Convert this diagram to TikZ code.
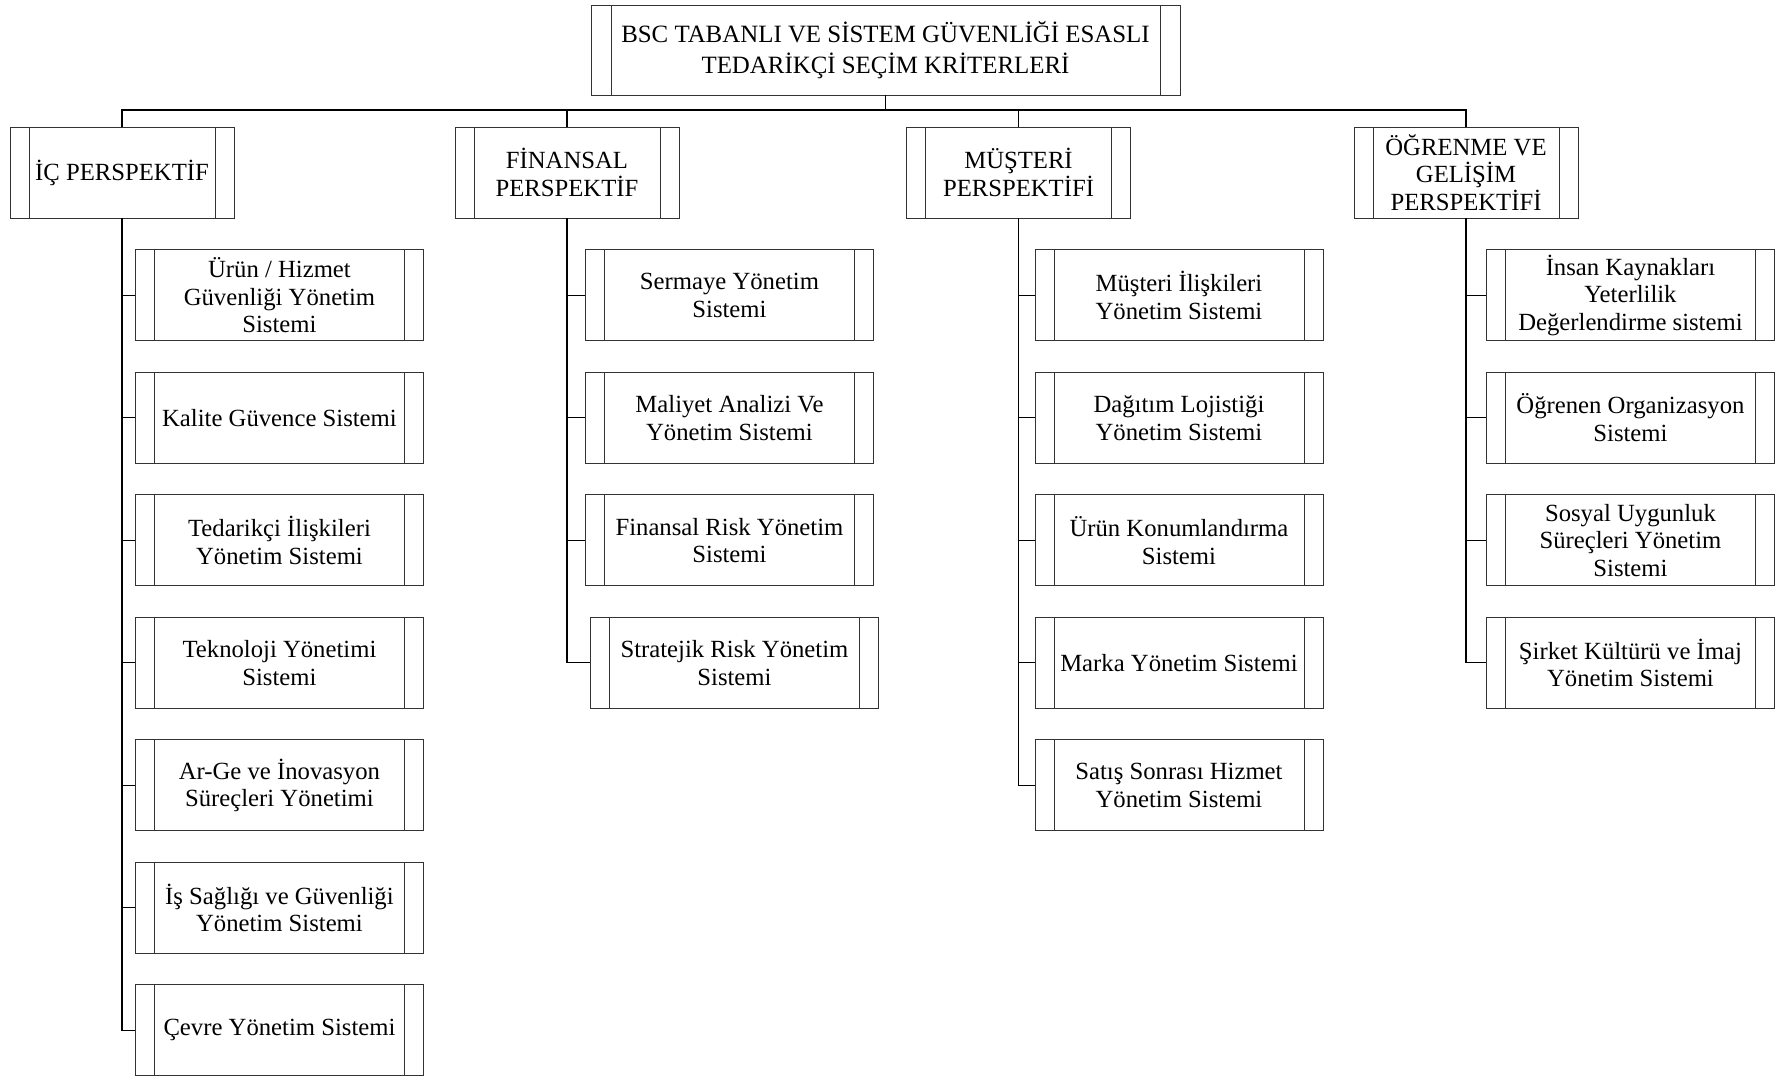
\documentclass[tikz,border=0pt]{standalone}
\usepackage{fontspec}
\setmainfont{Liberation Serif}
\usetikzlibrary{positioning}

\tikzset{
  sides/.style={path picture={\draw[black!80, line width=0.9pt]
      ([xshift=#1]path picture bounding box.north west) -- ([xshift=#1]path picture bounding box.south west)
      ([xshift=-#1]path picture bounding box.north east) -- ([xshift=-#1]path picture bounding box.south east);}},
  box/.style={draw=black!80, line width=0.9pt, inner sep=0pt, align=center,
    font=\fontsize{24.7}{27.6}\selectfont},
  topbox/.style={box, minimum width=589pt, minimum height=90pt, sides=20pt,
    font=\fontsize{24.9}{30.4}\selectfont},
  persp/.style={box, minimum width=224pt, minimum height=91pt, sides=19pt},
  item/.style={box, minimum width=288pt, minimum height=91pt, sides=19pt},
  link/.style={draw=black, line width=1.1pt}
}

\begin{document}
\begin{tikzpicture}[x=1pt, y=-1pt, node distance=30.6pt]
\useasboundingbox (0,0) rectangle (1780,1078);

% root and perspectives
\node[topbox] (bsc) at (885.5,50) {BSC TABANLI VE SİSTEM GÜVENLİĞİ ESASLI\\TEDARİKÇİ SEÇİM KRİTERLERİ};
\node[persp] (ic) at (122,172.5) {İÇ PERSPEKTİF};
\node[persp] (fin) at (567,172.5) {FİNANSAL\\PERSPEKTİF};
\node[persp] (mus) at (1018.5,172.5) {MÜŞTERİ\\PERSPEKTİFİ};
\node[persp] (ogr) at (1466,172.5) {ÖĞRENME VE\\GELİŞİM\\PERSPEKTİFİ};

% ic perspektif
\node[item, anchor=north west] (ic1) at ([xshift=13pt, yshift=-31pt]ic.south) {Ürün / Hizmet\\Güvenliği Yönetim\\Sistemi};
\node[item, below=of ic1] (ic2) {Kalite Güvence Sistemi};
\node[item, below=of ic2] (ic3) {Tedarikçi İlişkileri\\Yönetim Sistemi};
\node[item, below=of ic3] (ic4) {Teknoloji Yönetimi\\Sistemi};
\node[item, below=of ic4] (ic5) {Ar-Ge ve İnovasyon\\Süreçleri Yönetimi};
\node[item, below=of ic5] (ic6) {İş Sağlığı ve Güvenliği\\Yönetim Sistemi};
\node[item, below=of ic6] (ic7) {Çevre Yönetim Sistemi};

% finansal perspektif
\node[item, anchor=north west] (fin1) at ([xshift=18pt, yshift=-31pt]fin.south) {Sermaye Yönetim\\Sistemi};
\node[item, below=of fin1] (fin2) {Maliyet Analizi Ve\\Yönetim Sistemi};
\node[item, below=of fin2] (fin3) {Finansal Risk Yönetim\\Sistemi};
\node[item, below=of fin3, xshift=5pt] (fin4) {Stratejik Risk Yönetim\\Sistemi};

% musteri perspektifi
\node[item, anchor=north west] (mus1) at ([xshift=16pt, yshift=-31pt]mus.south) {Müşteri İlişkileri\\Yönetim Sistemi};
\node[item, below=of mus1] (mus2) {Dağıtım Lojistiği\\Yönetim Sistemi};
\node[item, below=of mus2] (mus3) {Ürün Konumlandırma\\Sistemi};
\node[item, below=of mus3] (mus4) {Marka Yönetim Sistemi};
\node[item, below=of mus4] (mus5) {Satış Sonrası Hizmet\\Yönetim Sistemi};

% ogrenme ve gelisim perspektifi
\node[item, anchor=north west] (ogr1) at ([xshift=20pt, yshift=-31pt]ogr.south) {İnsan Kaynakları\\Yeterlilik\\Değerlendirme sistemi};
\node[item, below=of ogr1] (ogr2) {Öğrenen Organizasyon\\Sistemi};
\node[item, below=of ogr2] (ogr3) {Sosyal Uygunluk\\Süreçleri Yönetim\\Sistemi};
\node[item, below=of ogr3] (ogr4) {Şirket Kültürü ve İmaj\\Yönetim Sistemi};

% connectors
\coordinate (bus) at (885.5,110);
\draw[link] (bsc.south) -- (bus);
\draw[link] (ic.north) |- (bus) -| (ogr.north);
\draw[link] (fin.north) -- (fin.north |- bus);
\draw[link] (mus.north) -- (mus.north |- bus);

\draw[link] (ic.south) |- (ic7.west);
\foreach \i in {1,...,6}
  \draw[link] (ic.south |- ic\i.west) -- (ic\i.west);
\draw[link] (fin.south) |- (fin4.west);
\foreach \i in {1,...,3}
  \draw[link] (fin.south |- fin\i.west) -- (fin\i.west);
\draw[link] (mus.south) |- (mus5.west);
\foreach \i in {1,...,4}
  \draw[link] (mus.south |- mus\i.west) -- (mus\i.west);
\draw[link] (ogr.south) |- (ogr4.west);
\foreach \i in {1,...,3}
  \draw[link] (ogr.south |- ogr\i.west) -- (ogr\i.west);
\end{tikzpicture}
\end{document}
